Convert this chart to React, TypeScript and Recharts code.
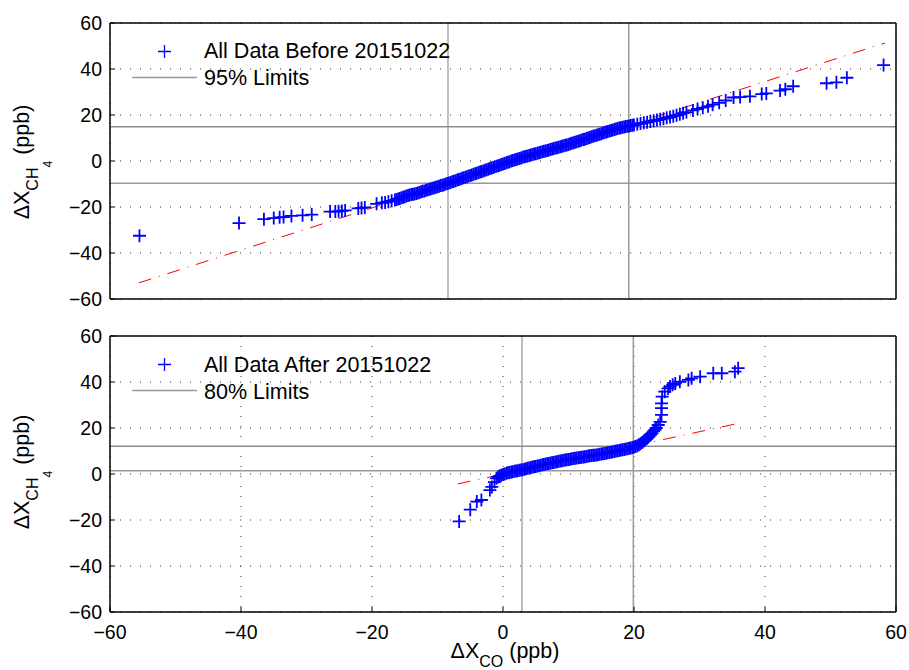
import { ScatterChart, Scatter, XAxis, YAxis, CartesianGrid, ReferenceLine } from "recharts";

const axisTicks = [-60, -40, -20, 0, 20, 40, 60];

// ΔX_CO, ΔX_CH4 pairs (dense band read at quarter-ppb steps)
const beforeData: [number, number][] = [
    [-55.5, -32.5], [-40.3, -27], [-36.5, -25.3], [-35, -24.8], [-34.1, -24.5], [-33.5, -24.4],
    [-32.3, -23.9], [-30.6, -23.6], [-29.2, -23.3], [-26.4, -22], [-25.6, -22], [-25.1, -21.9],
    [-24.6, -21.7], [-24.1, -21.5], [-22.1, -20.6], [-21.6, -20.4], [-21.1, -20.2], [-19.3, -18.6],
    [-18.5, -18.2], [-18, -18], [-17.5, -17.7], [-17, -17.3],
    [-16.5, -17], [-16.25, -16.75], [-16, -16.5], [-15.75, -16.25], [-15.5, -16], [-15.25, -15.75],
    [-15, -15.5], [-14.75, -15.25], [-14.5, -15], [-14.25, -14.8], [-14, -14.6], [-13.75, -14.45],
    [-13.5, -14.3], [-13.25, -14.1], [-13, -13.9], [-12.75, -13.65], [-12.5, -13.4], [-12.25, -13.2],
    [-12, -13], [-11.75, -12.75], [-11.5, -12.5], [-11.25, -12.3], [-11, -12.1], [-10.75, -11.85],
    [-10.5, -11.6], [-10.25, -11.4], [-10, -11.2], [-9.75, -10.95], [-9.5, -10.7], [-9.25, -10.5],
    [-9, -10.3], [-8.75, -10.05], [-8.5, -9.8], [-8.25, -9.55], [-8, -9.3], [-7.75, -9.05],
    [-7.5, -8.8], [-7.25, -8.55], [-7, -8.3], [-6.75, -8.05], [-6.5, -7.8], [-6.25, -7.55],
    [-6, -7.3], [-5.75, -7.05], [-5.5, -6.8], [-5.25, -6.55], [-5, -6.3], [-4.75, -6.05],
    [-4.5, -5.8], [-4.25, -5.55], [-4, -5.3], [-3.75, -5.05], [-3.5, -4.8], [-3.25, -4.55],
    [-3, -4.3], [-2.75, -4.05], [-2.5, -3.8], [-2.25, -3.55], [-2, -3.3], [-1.75, -3.05],
    [-1.5, -2.8], [-1.25, -2.55], [-1, -2.3], [-0.75, -2.05], [-0.5, -1.8], [-0.25, -1.55],
    [0, -1.3], [0.25, -1.05], [0.5, -0.8], [0.75, -0.55], [1, -0.3], [1.25, -0.05],
    [1.5, 0.2], [1.75, 0.45], [2, 0.7], [2.25, 0.9], [2.5, 1.1], [2.75, 1.35],
    [3, 1.6], [3.25, 1.8], [3.5, 2], [3.75, 2.2], [4, 2.4], [4.25, 2.6],
    [4.5, 2.8], [4.75, 3], [5, 3.2], [5.25, 3.4], [5.5, 3.6], [5.75, 3.8],
    [6, 4], [6.25, 4.2], [6.5, 4.4], [6.75, 4.6], [7, 4.8], [7.25, 5],
    [7.5, 5.2], [7.75, 5.4], [8, 5.6], [8.25, 5.8], [8.5, 6], [8.75, 6.2],
    [9, 6.4], [9.25, 6.6], [9.5, 6.8], [9.75, 7], [10, 7.2], [10.25, 7.45],
    [10.5, 7.7], [10.75, 7.9], [11, 8.1], [11.25, 8.35], [11.5, 8.6], [11.75, 8.85],
    [12, 9.1], [12.25, 9.3], [12.5, 9.5], [12.75, 9.75], [13, 10], [13.25, 10.25],
    [13.5, 10.5], [13.75, 10.75], [14, 11], [14.25, 11.2], [14.5, 11.4], [14.75, 11.65],
    [15, 11.9], [15.25, 12.15], [15.5, 12.4], [15.75, 12.6], [16, 12.8], [16.25, 13.05],
    [16.5, 13.3], [16.75, 13.5], [17, 13.7], [17.25, 13.9], [17.5, 14.1], [17.75, 14.3],
    [18, 14.5], [18.25, 14.65], [18.5, 14.8], [18.75, 14.95], [19, 15.1], [19.25, 15.25],
    [19.5, 15.4], [19.75, 15.55], [20, 15.7], [20.5, 16], [21, 16.3], [21.5, 16.6],
    [22, 16.9], [22.5, 17.2], [23, 17.5], [23.5, 17.8], [24, 18.1], [24.5, 18.4],
    [25, 18.8], [25.5, 19.1], [26, 19.5], [26.5, 19.9], [27, 20.3], [27.5, 20.8],
    [28, 21.2], [29, 22], [29.7, 22.6], [30.5, 23.2], [31.3, 23.8], [32, 24.5],
    [33, 25.3], [34, 26.3], [35.2, 27.6], [36.2, 27.8], [37.7, 28.1], [39.5, 29.1],
    [40.2, 29.4], [42.3, 30.6], [43.1, 31.2], [44.3, 32.5], [49.4, 33.8], [50.9, 34.2],
    [52.5, 36.2], [58.1, 41.7],
];

// lower panel
const afterData: [number, number][] = [
    [-6.7, -20.6], [-5, -15.5], [-4, -12], [-3.3, -11.3], [-2, -7], [-1.7, -5.6],
    [-1.3, -3.5], [-1, -1.9], [-0.75, -1.3],
    [-0.5, -0.8], [-0.25, -0.5], [0, -0.2], [0.25, 0.05], [0.5, 0.3], [0.75, 0.5],
    [1, 0.7], [1.25, 0.85], [1.5, 1], [1.75, 1.15], [2, 1.3], [2.25, 1.45],
    [2.5, 1.6], [2.75, 1.75], [3, 1.9], [3.25, 2.1], [3.5, 2.3], [3.75, 2.45],
    [4, 2.6], [4.25, 2.8], [4.5, 3], [4.75, 3.15], [5, 3.3], [5.25, 3.45],
    [5.5, 3.6], [5.75, 3.8], [6, 4], [6.25, 4.15], [6.5, 4.3], [6.75, 4.45],
    [7, 4.6], [7.25, 4.75], [7.5, 4.9], [7.75, 5.05], [8, 5.2], [8.25, 5.35],
    [8.5, 5.5], [8.75, 5.65], [9, 5.8], [9.25, 5.95], [9.5, 6.1], [9.75, 6.2],
    [10, 6.3], [10.25, 6.45], [10.5, 6.6], [10.75, 6.7], [11, 6.8], [11.25, 6.95],
    [11.5, 7.1], [11.75, 7.2], [12, 7.3], [12.25, 7.4], [12.5, 7.5], [12.75, 7.65],
    [13, 7.8], [13.25, 7.9], [13.5, 8], [13.75, 8.1], [14, 8.2], [14.25, 8.3],
    [14.5, 8.4], [14.75, 8.55], [15, 8.7], [15.25, 8.8], [15.5, 8.9], [15.75, 9.05],
    [16, 9.2], [16.25, 9.35], [16.5, 9.5], [16.75, 9.65], [17, 9.8], [17.25, 9.95],
    [17.5, 10.1], [17.75, 10.25], [18, 10.4], [18.25, 10.55], [18.5, 10.7], [18.75, 10.85],
    [19, 11], [19.25, 11.15], [19.5, 11.3], [19.75, 11.5], [20, 11.7], [20.25, 12],
    [20.5, 12.3], [20.75, 12.7], [21, 13.2], [21.25, 13.7], [21.5, 14.3], [21.75, 14.9],
    [22, 15.5], [22.25, 16.2], [22.5, 17], [22.75, 17.7], [23, 18.5], [23.2, 19.2],
    [23.4, 20], [23.7, 21.3], [24, 22.7], [24.2, 25.7], [24.2, 28.6], [24.2, 30.7],
    [24.3, 33.6], [24.7, 35.8], [25.2, 37.2], [25.5, 38], [25.9, 38.8], [26.3, 39.4],
    [27, 40.1], [28.3, 40.9], [28.8, 41.6], [30.1, 42.3], [32.1, 43.8], [33.4, 43.8],
    [35.4, 44.5], [35.9, 46],
];

const beforeFit: [number, number][] = [[-55.6, -53], [58.3, 51.3]];
const afterFit: [number, number][] = [[-6.9, -4.3], [36.2, 22.2]];

const beforeLimitsX = [-8.4, 19.2];
const beforeLimitsY = [14.9, -9.7];
const afterLimitsX = [2.9, 19.9];
const afterLimitsY = [12.1, 1.4];

const FONT = '"Liberation Sans", Arial, Helvetica, sans-serif';
const toPoints = (rows: [number, number][]) => rows.map(([x, y]) => ({ x, y }));
const fmt = (v: number) => String(v).replace("-", "\u2212");

function Plus(props: any) {
    const { cx, cy } = props;
    if (cx == null || cy == null) return <g />;
    return (
        <path
            d={`M${cx - 6.5},${cy}H${cx + 6.5}M${cx},${cy - 6.5}V${cy + 6.5}`}
            stroke="#0000ff"
            strokeWidth={1.8}
            fill="none"
        />
    );
}

const tickFont = { fill: "#000", fontSize: 19.5, fontFamily: FONT };
const axisStroke = { stroke: "#000", strokeWidth: 1.5 };

function Panel({ data, fit, limX, limY, height, marginTop, bottomHeight, xLabels }: any) {
    return (
        <ScatterChart width={909} height={height} margin={{ top: marginTop, right: 12, bottom: 0, left: 0 }}>
            <CartesianGrid stroke="#333" strokeDasharray="1 9" />
            <XAxis
                type="number"
                dataKey="x"
                domain={[-60, 60]}
                ticks={axisTicks}
                allowDataOverflow
                height={bottomHeight}
                tickSize={-5}
                tickMargin={18}
                tick={xLabels ? tickFont : false}
                tickFormatter={fmt}
                axisLine={axisStroke}
                tickLine={{ stroke: "#000" }}
            />
            <XAxis
                xAxisId="t"
                orientation="top"
                type="number"
                dataKey="x"
                domain={[-60, 60]}
                ticks={axisTicks}
                height={1}
                tickSize={-5}
                tick={false}
                axisLine={axisStroke}
                tickLine={{ stroke: "#000" }}
            />
            <YAxis
                type="number"
                dataKey="y"
                domain={[-60, 60]}
                ticks={axisTicks}
                allowDataOverflow
                width={110}
                tickSize={-5}
                tickMargin={13}
                tick={tickFont}
                tickFormatter={fmt}
                axisLine={axisStroke}
                tickLine={{ stroke: "#000" }}
            />
            <YAxis
                yAxisId="r"
                orientation="right"
                type="number"
                dataKey="y"
                domain={[-60, 60]}
                ticks={axisTicks}
                width={1}
                tickSize={-5}
                tick={false}
                axisLine={axisStroke}
                tickLine={{ stroke: "#000" }}
            />
            <Scatter
                data={toPoints(fit)}
                line={{ stroke: "#ff0000", strokeWidth: 1, strokeDasharray: "13 8 1 8" }}
                shape={() => <g />}
                isAnimationActive={false}
            />
            <Scatter data={toPoints(data)} shape={<Plus />} isAnimationActive={false} />
            <ReferenceLine x={limX[0]} stroke="#aaa" strokeWidth={1.5} />
            <ReferenceLine x={limX[1]} stroke="#999" strokeWidth={1.5} />
            <ReferenceLine y={limY[0]} stroke="#8c8c8c" strokeWidth={1.5} />
            <ReferenceLine y={limY[1]} stroke="#9a9a9a" strokeWidth={1.5} />
        </ScatterChart>
    );
}

function LegendPlus({ x, y }: { x: number; y: number }) {
    return <path d={`M${x - 6.5},${y}H${x + 6.5}M${x},${y - 6.5}V${y + 6.5}`} stroke="#0000ff" strokeWidth={1.3} />;
}

function YTitle({ cy }: { cy: number }) {
    return (
        <text transform={`translate(29,${cy}) rotate(-90)`} textAnchor="middle" fontSize={21.5} fontFamily={FONT} fill="#000">
            ΔX
            <tspan dy={9} fontSize={16}>CH</tspan>
            <tspan dy={14} fontSize={12}>4</tspan>
            <tspan dy={-23} fontSize={21.5}> (ppb)</tspan>
        </text>
    );
}

export default function App() {
    return (
        <div style={{ position: "absolute", left: 0, top: 0, width: 909, height: 670, background: "#fff", overflow: "hidden" }}>
            <div style={{ position: "absolute", left: 0, top: 0 }}>
                <Panel data={beforeData} fit={beforeFit} limX={beforeLimitsX} limY={beforeLimitsY} height={318} marginTop={22} bottomHeight={19} xLabels={false} />
            </div>
            <div style={{ position: "absolute", left: 0, top: 318 }}>
                <Panel data={afterData} fit={afterFit} limX={afterLimitsX} limY={afterLimitsY} height={352} marginTop={17} bottomHeight={58} xLabels />
            </div>
            <svg width={909} height={670} style={{ position: "absolute", left: 0, top: 0, pointerEvents: "none" }}>
                <g fontFamily={FONT} fontSize={21.5} fill="#000">
                    <LegendPlus x={164.5} y={51.5} />
                    <text x={204} y={58}>All Data Before 20151022</text>
                    <line x1={132} x2={197} y1={77.5} y2={77.5} stroke="#999" strokeWidth={1.5} />
                    <text x={204} y={85}>95% Limits</text>
                    <LegendPlus x={164.5} y={364.5} />
                    <text x={204} y={371.5}>All Data After 20151022</text>
                    <line x1={132} x2={197} y1={390.5} y2={390.5} stroke="#999" strokeWidth={1.5} />
                    <text x={204} y={399}>80% Limits</text>
                </g>
                <YTitle cy={162} />
                <YTitle cy={472} />
                <text x={505} y={658} textAnchor="middle" fontSize={21.5} fontFamily={FONT} fill="#000">
                    ΔX
                    <tspan dy={9} fontSize={16}>CO</tspan>
                    <tspan dy={-9} fontSize={21.5}> (ppb)</tspan>
                </text>
            </svg>
        </div>
    );
}
